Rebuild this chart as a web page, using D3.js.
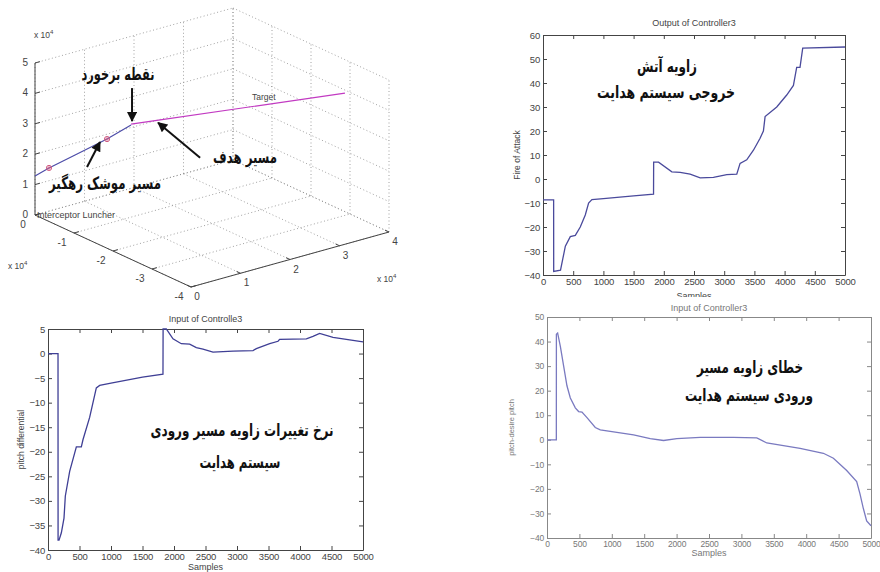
<!DOCTYPE html>
<html>
<head>
<meta charset="utf-8">
<script src="https://cdn.jsdelivr.net/npm/d3@7"></script>
<style>
  body { margin: 0; background: #fff; }
  svg { display: block; }
  text { font-family: "Liberation Sans", Arial, sans-serif; }
  .fa { font-family: "DejaVu Sans", sans-serif; font-weight: bold; fill: #111; }
</style>
</head>
<body>
<div id="viz"></div>
<script>
// ---- داده ها ----
const sampleTicks = d3.range(0, 5001, 500);

// Output of Controller3 (Fire of Attack)
const outSamples = [0, 176, 177, 290, 330, 370, 452, 535, 617, 700, 755, 810, 1000, 1500, 1830, 1832, 1913, 2133, 2271, 2436, 2602, 2822, 3043, 3208, 3263, 3373, 3484, 3594, 3649, 3677, 3870, 4035, 4146, 4200, 4255, 4300, 5000];
const outValues = [-8.7, -8.7, -38.5, -38, -33, -28, -24, -23.5, -20, -15, -10, -8.6, -8.2, -7, -6.3, 7, 7, 3, 2.8, 2, 0.5, 0.7, 1.8, 2, 6.5, 8, 12, 17, 20, 26, 30, 35, 39, 46.5, 46.5, 54.5, 55];
const outTicks = d3.range(-40, 61, 10);

// Input of Controlle3 (pitch differential)
const difSamples = [0, 159, 160, 175, 212, 254, 275, 344, 450, 529, 556, 661, 767, 820, 1000, 1500, 1825, 1827, 1878, 1984, 2116, 2249, 2354, 2460, 2619, 2937, 3254, 3307, 3519, 3651, 3677, 4101, 4206, 4312, 4524, 5000];
const difValues = [0, 0, -38, -38, -36.5, -33.5, -29, -24, -19, -19, -17.5, -13, -7, -6.5, -6, -4.8, -4.2, 5, 5, 3, 2, 1.9, 1.2, 0.9, 0.3, 0.5, 0.6, 1.0, 2, 2.5, 2.9, 3, 3.5, 4.1, 3.3, 2.4];
const difTicks = d3.range(-40, 6, 5);

// Input of Controller3 (pitch-desire pitch)
const errSamples = [0, 144, 145, 164, 206, 257, 308, 360, 437, 488, 540, 617, 745, 822, 1336, 1593, 1799, 2004, 2364, 2878, 3238, 3392, 3906, 4265, 4420, 4625, 4779, 4830, 4882, 4933, 5000];
const errValues = [0, 0, 43, 43.5, 38, 30, 22, 17, 13, 11.5, 11.3, 9, 5, 4, 2, 0.5, -0.3, 0.5, 1, 1, 0.8, -1.3, -3.5, -5.5, -7.5, -12.5, -17, -22, -28, -33, -35];
const errTicks = d3.range(-40, 51, 10);

// 3D (x 10^4)
const xTicks3 = [0, 1, 2, 3, 4];
const yTicks3 = [0, -1, -2, -3, -4];
const zTicks3 = [0, 1, 2, 3, 4, 5];
const interceptor = [[0, 0, 1.28], [0.283, 0, 1.42], [0.81, 0, 1.61], [1.455, 0, 1.84], [1.94, 0, 2.08]];
const target = [[1.94, 0, 2.11], [2.19, -0.3, 2.29], [4, -2.87, 3.9]];
const markerIdx = [1, 3];

const W = 880, H = 572;
const svg = d3.select('#viz').append('svg').attr('width', W).attr('height', H);
svg.append('rect').attr('width', W).attr('height', H).attr('fill', '#fff');

svg.append('defs').append('marker')
  .attr('id', 'arr').attr('viewBox', '0 0 10 10').attr('refX', 9).attr('refY', 5)
  .attr('markerWidth', 5.5).attr('markerHeight', 5).attr('orient', 'auto')
  .attr('markerUnits', 'strokeWidth')
  .append('path').attr('d', 'M0,0L10,5L0,10z').attr('fill', '#111');

// متن فارسی با عرض مشخص
function faText(g, n) {
  g.append('text').attr('class', 'fa').attr('x', n[1]).attr('y', n[2])
    .attr('text-anchor', 'middle').attr('font-size', 17)
    .attr('textLength', n[3]).attr('lengthAdjust', 'spacingAndGlyphs')
    .text(n[0]);
}

// ---- نمودار های دو بعدی ----
function linePlot(cfg) {
  const g = svg.append('g');
  if (cfg.clipBottom) {
    const id = 'clip' + Math.round(cfg.left);
    svg.select('defs').append('clipPath').attr('id', id)
      .append('rect').attr('x', 0).attr('y', 0).attr('width', W).attr('height', cfg.clipBottom);
    g.attr('clip-path', `url(#${id})`);
  }
  const x = d3.scaleLinear().domain([0, 5000]).range([cfg.left, cfg.right]);
  const y = d3.scaleLinear().domain(cfg.yDomain).range([cfg.bottom, cfg.top]);

  const styleAxis = (a) => {
    a.attr('font-family', '"Liberation Sans", Arial, sans-serif').attr('font-size', cfg.fs);
    a.select('.domain').attr('stroke', cfg.axisColor);
    a.selectAll('.tick line').attr('stroke', cfg.axisColor);
    a.selectAll('.tick text').attr('fill', cfg.textColor).attr('letter-spacing', -0.2);
  };

  g.append('g').attr('transform', `translate(0,${cfg.bottom})`)
    .call(d3.axisBottom(x).tickValues(sampleTicks).tickFormat(d3.format('d'))
      .tickSizeInner(-4).tickSizeOuter(0).tickPadding(3))
    .call(styleAxis);
  g.append('g').attr('transform', `translate(0,${cfg.top})`)
    .call(d3.axisTop(x).tickValues(sampleTicks).tickSizeInner(-4).tickSizeOuter(0).tickFormat(''))
    .call(styleAxis);
  g.append('g').attr('transform', `translate(${cfg.left},0)`)
    .call(d3.axisLeft(y).tickValues(cfg.yTicks).tickFormat(d3.format('d'))
      .tickSizeInner(-4).tickSizeOuter(0).tickPadding(3))
    .call(styleAxis);
  g.append('g').attr('transform', `translate(${cfg.right},0)`)
    .call(d3.axisRight(y).tickValues(cfg.yTicks).tickSizeInner(-4).tickSizeOuter(0).tickFormat(''))
    .call(styleAxis);

  const pts = cfg.samples.map((s, i) => [s, cfg.values[i]]);
  g.append('path').datum(pts)
    .attr('d', d3.line().x(d => x(d[0])).y(d => y(Math.min(d[1], cfg.yDomain[1]))))
    .attr('fill', 'none').attr('stroke', cfg.lineColor).attr('stroke-width', 1.3);

  g.append('text').attr('x', (cfg.left + cfg.right) / 2).attr('y', cfg.top - cfg.titleDy)
    .attr('text-anchor', 'middle').attr('font-size', 9).attr('fill', cfg.textColor).text(cfg.title);
  g.append('text').attr('x', (cfg.left + cfg.right) / 2).attr('y', cfg.bottom + cfg.xLabelDy)
    .attr('text-anchor', 'middle').attr('font-size', 9).attr('fill', cfg.textColor).text('Samples');
  g.append('text')
    .attr('transform', `translate(${cfg.left - cfg.yLabelDx},${(cfg.top + cfg.bottom) / 2}) rotate(-90)`)
    .attr('text-anchor', 'middle').attr('font-size', cfg.fs - 1).attr('fill', cfg.textColor).text(cfg.yLabel);

  cfg.notes.forEach(n => faText(g, n));
}

linePlot({
  left: 543, right: 845, top: 35, bottom: 275, clipBottom: 297,
  yDomain: [-40, 60], yTicks: outTicks, samples: outSamples, values: outValues,
  title: 'Output of Controller3', yLabel: 'Fire of Attack',
  titleDy: 9, xLabelDy: 24, yLabelDx: 23, fs: 9.5,
  axisColor: '#444', textColor: '#444', lineColor: '#4a4a9c',
  notes: [['زاویه آتش', 667, 72, 60], ['خروجی سیستم هدایت', 666, 98, 138]]
});
linePlot({
  left: 48, right: 363, top: 329, bottom: 550,
  yDomain: [-40, 5], yTicks: difTicks, samples: difSamples, values: difValues,
  title: 'Input of Controlle3', yLabel: 'pitch differential',
  titleDy: 7, xLabelDy: 20, yLabelDx: 24, fs: 9.5,
  axisColor: '#444', textColor: '#444', lineColor: '#3f3f95',
  notes: [['نرخ تغییرات زاویه مسیر ورودی', 242, 436, 183], ['سیستم هدایت', 240, 468, 81]]
});
linePlot({
  left: 547, right: 871, top: 317, bottom: 538,
  yDomain: [-40, 50], yTicks: errTicks, samples: errSamples, values: errValues,
  title: 'Input of Controller3', yLabel: 'pitch-desire pitch',
  titleDy: 6, xLabelDy: 18, yLabelDx: 33, fs: 8.5,
  axisColor: '#888', textColor: '#777', lineColor: '#7a7ac0',
  notes: [['خطای زاویه مسیر', 750, 373, 106], ['ورودی سیستم هدایت', 749, 401, 128]]
});

// ---- نمودار سه بعدی ----
const g3 = svg.append('g');
const xToPx = d3.scaleLinear().domain([0, 4]).range([35, 233]);
const xToPy = d3.scaleLinear().domain([0, 4]).range([0, -55]);
const yToPx = d3.scaleLinear().domain([0, -4]).range([0, 156]);
const yToPy = d3.scaleLinear().domain([0, -4]).range([0, 72]);
const zToPy = d3.scaleLinear().domain([0, 5]).range([215, 63]);
const proj = p => [xToPx(p[0]) + yToPx(p[1]), zToPy(p[2]) + xToPy(p[0]) + yToPy(p[1])];
const seg = (a, b) => d3.line()([proj(a), proj(b)]);

const grid = [];
xTicks3.forEach(v => { grid.push([[v, 0, 0], [v, -4, 0]]); grid.push([[v, 0, 0], [v, 0, 5]]); });
yTicks3.forEach(v => { grid.push([[0, v, 0], [4, v, 0]]); grid.push([[4, v, 0], [4, v, 5]]); });
zTicks3.forEach(v => { grid.push([[0, 0, v], [4, 0, v]]); grid.push([[4, 0, v], [4, -4, v]]); });
g3.selectAll('.grid').data(grid).join('path')
  .attr('d', d => seg(d[0], d[1]))
  .attr('stroke', '#8a8a8a').attr('stroke-width', 0.8).attr('stroke-dasharray', '1,2.5').attr('fill', 'none');

const axes3 = [[[0, 0, 0], [0, 0, 5]], [[0, 0, 0], [0, -4, 0]], [[0, -4, 0], [4, -4, 0]]];
g3.selectAll('.ax').data(axes3).join('path')
  .attr('d', d => seg(d[0], d[1])).attr('stroke', '#444').attr('stroke-width', 1).attr('fill', 'none');

// ticks
g3.selectAll('.zt').data(zTicks3).join('path').attr('d', v => seg([0, 0, v], [0.1, 0, v])).attr('stroke', '#444');
g3.selectAll('.yt').data(yTicks3).join('path').attr('d', v => seg([0, v, 0], [0.1, v, 0])).attr('stroke', '#444');
g3.selectAll('.xt').data(xTicks3).join('path').attr('d', v => seg([v, -4, 0], [v, -3.9, 0])).attr('stroke', '#444');

const lab = g3.append('g').attr('font-size', 10).attr('fill', '#444');
lab.selectAll('.zl').data(zTicks3).join('text')
  .attr('x', v => proj([0, 0, v])[0] - 7).attr('y', v => proj([0, 0, v])[1] + 3)
  .attr('text-anchor', 'end').text(v => v);
lab.selectAll('.yl').data(yTicks3).join('text')
  .attr('x', v => proj([0, v, 0])[0] - 12).attr('y', v => proj([0, v, 0])[1] + 13)
  .attr('text-anchor', 'middle').text(v => v === 0 ? '0' : '-' + Math.abs(v));
lab.selectAll('.xl').data(xTicks3).join('text')
  .attr('x', v => proj([v, -4, 0])[0] + 6).attr('y', v => proj([v, -4, 0])[1] + 13)
  .attr('text-anchor', 'middle').text(v => v);

const expo = (x, y) => {
  const t = lab.append('text').attr('x', x).attr('y', y).attr('font-size', 8.5);
  t.append('tspan').text('x 10');
  t.append('tspan').attr('dy', -4).attr('font-size', 6).text('4');
};
expo(34, 38);
expo(8, 269);
expo(377, 282);

// paths
g3.append('path').datum(interceptor).attr('d', d3.line().x(p => proj(p)[0]).y(p => proj(p)[1]))
  .attr('fill', 'none').attr('stroke', '#4c4ca8').attr('stroke-width', 1.2);
g3.append('path').datum(target).attr('d', d3.line().x(p => proj(p)[0]).y(p => proj(p)[1]))
  .attr('fill', 'none').attr('stroke', '#c23ac2').attr('stroke-width', 1.2);
markerIdx.forEach(i => {
  const [mx, my] = proj(interceptor[i]);
  g3.append('circle').attr('cx', mx).attr('cy', my).attr('r', 2.6)
    .attr('fill', 'none').attr('stroke', '#d05a80').attr('stroke-width', 1);
  g3.append('path').attr('d', `M${mx - 2},${my}H${mx + 2}M${mx},${my - 2}V${my + 2}`)
    .attr('stroke', '#d05a80').attr('stroke-width', 0.8);
});

lab.append('text').attr('x', proj(target[2])[0] - 93).attr('y', proj(target[2])[1] + 7)
  .attr('font-size', 8.5).text('Target');
lab.append('text').attr('x', proj([0, 0, 0])[0] + 2).attr('y', proj([0, 0, 0])[1] + 3)
  .attr('font-size', 9).text('Interceptor Luncher');

// arrows & notes
const hit = proj(interceptor[4]);
const tMid = proj(target[1]);
const iMid = proj(interceptor[3]);
const arrows = [
  [[hit[0] + 1, hit[1] - 37], [hit[0] + 1, hit[1] - 4]],
  [[tMid[0] + 45, tMid[1] + 37], [tMid[0] + 3, tMid[1] + 2]],
  [[iMid[0] - 20, iMid[1] + 28], [iMid[0] - 7, iMid[1] + 3]]
];
g3.selectAll('.arrow').data(arrows).join('path')
  .attr('d', d => d3.line()(d)).attr('stroke', '#111').attr('stroke-width', 2)
  .attr('marker-end', 'url(#arr)');

[['نقطه برخورد', 118, 80, 73], ['مسیر هدف', 245, 163, 64], ['مسیر موشک رهگیر', 105, 189, 112]]
  .forEach(n => faText(g3, n));
</script>
</body>
</html>
